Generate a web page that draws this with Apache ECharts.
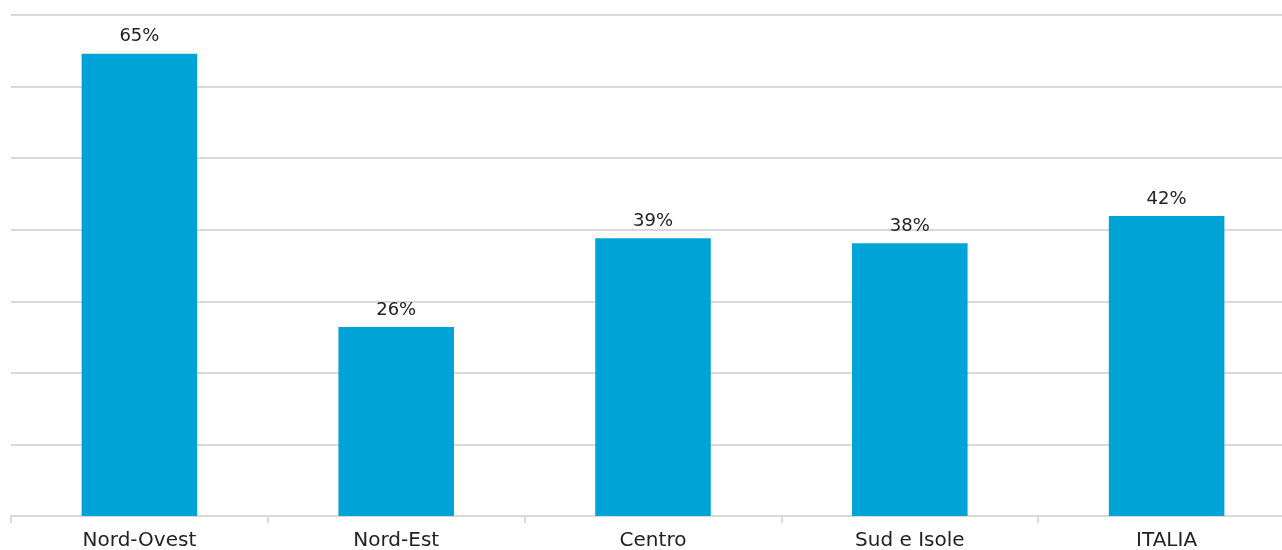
<!DOCTYPE html>
<html>
<head>
<meta charset="utf-8">
<script src="https://cdn.jsdelivr.net/npm/echarts@6/dist/echarts.min.js"></script>
<style>
html,body{margin:0;padding:0;background:#fff;}
#chart{width:1282px;height:550px;}
</style>
</head>
<body>
<div id="chart"></div>
<script>
const categories = ['Nord-Ovest', 'Nord-Est', 'Centro', 'Sud e Isole', 'ITALIA'];
const values = [64.6, 26.4, 38.8, 38.1, 41.9];

const chart = echarts.init(document.getElementById('chart'), null, {renderer: 'canvas'});
chart.setOption({
  animation: false,
  grid: {left: 11, right: -13, top: 15, bottom: 34, containLabel: false, outerBoundsMode: 'none'},
  xAxis: {
    type: 'category',
    data: categories,
    axisLine: {show: true, lineStyle: {color: '#d9d9d9', width: 2}},
    axisTick: {show: true, length: 7, lineStyle: {color: '#d9d9d9', width: 2}},
    axisLabel: {color: '#222', fontSize: 20, fontFamily: 'DejaVu Sans', margin: 15}
  },
  yAxis: {
    type: 'value',
    min: 0, max: 70, interval: 10,
    axisLabel: {show: false},
    axisLine: {show: false},
    axisTick: {show: false},
    splitLine: {show: true, lineStyle: {color: '#d9d9d9', width: 2}}
  },
  series: [{
    type: 'bar',
    data: values,
    barWidth: '45%',
    itemStyle: {color: '#00a3d6'},
    label: {
      show: true, position: 'top', distance: 8,
      color: '#222', fontSize: 18, fontFamily: 'DejaVu Sans',
      formatter: p => Math.round(p.value) + '%'
    }
  }]
});
</script>
</body>
</html>
